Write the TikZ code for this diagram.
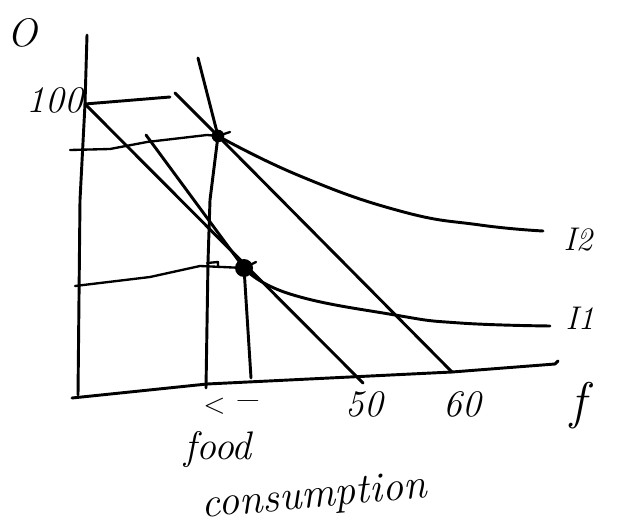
\documentclass[tikz,border=0pt]{standalone}
\begin{document}
\begin{tikzpicture}[x=0.3mm,y=-0.3mm,
  pen/.style={line width=2.5pt,line cap=round,line join=round},
  thin pen/.style={line width=2pt,line cap=round,line join=round},
  hand/.style={font=\fontsize{32}{36}\selectfont\itshape,inner sep=0pt},
  dotmark/.style={fill=black}]
\useasboundingbox (0,0) rectangle (628,527);
% key points
\coordinate (ytop) at (87,35);
\coordinate (orig) at (78,395);
\coordinate (xl) at (72,398);
\coordinate (xend) at (555,364);
\coordinate (hund) at (85,104);
\coordinate (hundr) at (170,97);
\coordinate (b2top) at (175,93);
\coordinate (b3top) at (146,135);
\coordinate (vtop) at (198,58);
\coordinate (vbot) at (206,388);
\coordinate (D2) at (218,136);
\coordinate (D1) at (244,268);
\coordinate (fifty) at (363,383);
\coordinate (sixty) at (452,372);
\coordinate (d1bot) at (251,378);
% axes
\draw[pen] (ytop) -- (hund) -- (80,200) -- (orig);
\draw[pen] (xl) -- (207,384) -- (sixty) -- (xend) -- (558,361);
% vertical guide
\draw[pen] (vtop) -- (D2) -- (210,200) -- (208,262) -- (vbot);
% top short horizontal
\draw[pen] (hund) -- (hundr);
% budget lines
\draw[pen] (hund) -- (fifty);
\draw[pen] (b2top) -- (D2) -- (sixty);
\draw[pen] (b3top) -- (D1);
% horizontals from dots
\draw[thin pen] (70,150) -- (110,149) -- (147,142) -- (207,135) -- (D2) -- (230,132);
\draw[thin pen] (75,286) -- (150,277) -- (200,266) -- (D1) -- (256,262);
\draw[thin pen] (207,263) -- (218,262) -- (218,266);
% vertical from lower dot
\draw[pen] (D1) -- (d1bot);
% indifference curves
\draw[pen] plot[smooth,tension=0.8] coordinates {(218,136) (300,176) (400,211) (480,225) (543,231)};
\draw[pen] plot[smooth,tension=0.8] coordinates {(244,268) (290,294) (395,315) (460,323) (550,326)};
% dots
\fill[dotmark] (D2) circle[radius=1.9mm];
\fill[dotmark] (D1) circle[radius=2.7mm];
% labels
\node[hand,font=\fontsize{34}{38}\selectfont\itshape] (lo) at (22,33) {O};
\node[hand] (l100) at (55,100) {100};
\node[hand] (l50) at (364,404) {50};
\node[hand] (l60) at (462,404) {60};
\node[hand,font=\fontsize{44}{48}\selectfont\itshape] (lf) at (578,406) {f};
\node[hand,font=\fontsize{28}{32}\selectfont\itshape] (lI2) at (578,240) {I2};
\node[hand,font=\fontsize{28}{32}\selectfont\itshape] (lI1) at (580,318) {I1};
\node[hand,font=\fontsize{40}{44}\selectfont\itshape] (larr) at (230,406) {$<$\,--};
\node[hand,font=\fontsize{34}{38}\selectfont\itshape] (lfood) at (218,450) {food};
\node[hand,font=\fontsize{36}{40}\selectfont\itshape,rotate=5] (lcons) at (314,498) {consumption};
\end{tikzpicture}
\end{document}
